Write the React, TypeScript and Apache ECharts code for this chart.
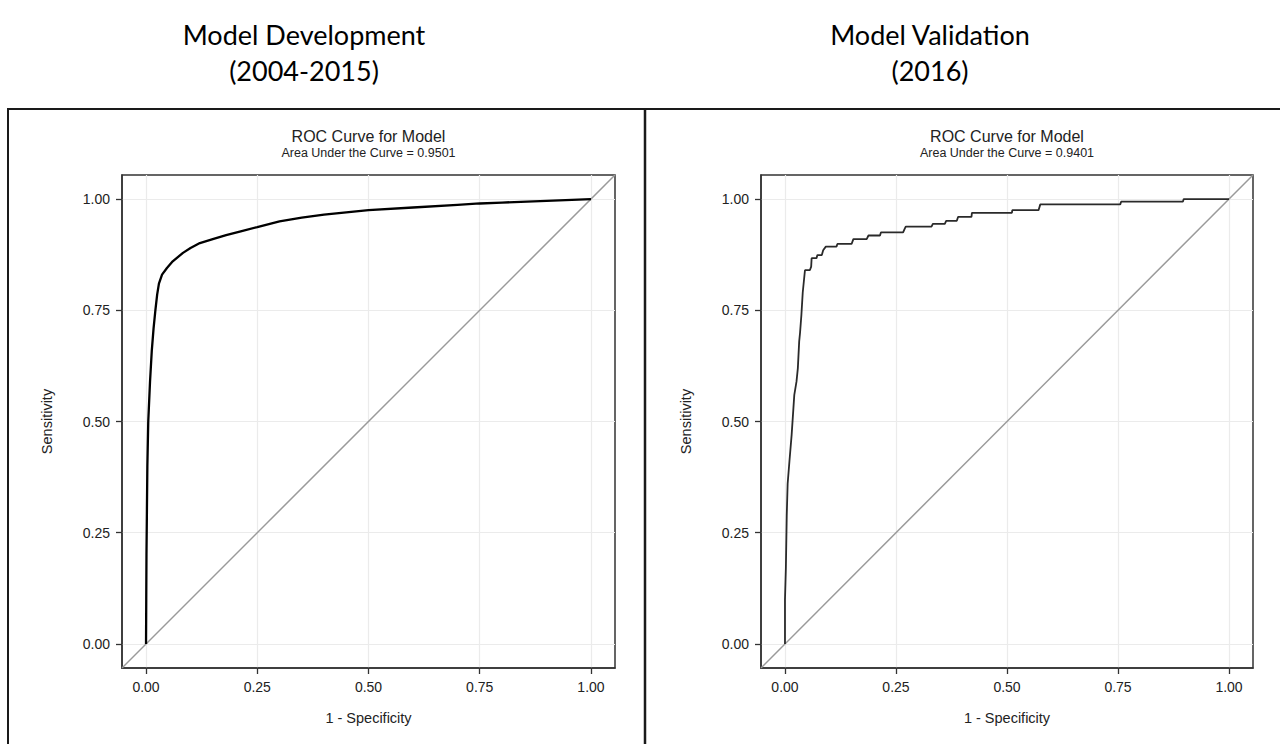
import React, { useEffect, useRef } from "react";
import * as echarts from "echarts";

// ---------- data ----------
const AX_MIN = -0.054;
const AX_MAX = 1.054;
const TICKS = [0, 0.25, 0.5, 0.75, 1];

const PANEL_TITLES = ["Model Development\n(2004-2015)", "Model Validation\n(2016)"];
const CHART_TITLE = "ROC Curve for Model";
const AUC_LABELS = ["Area Under the Curve = 0.9501", "Area Under the Curve = 0.9401"];
const X_NAME = "1 - Specificity";
const Y_NAME = "Sensitivity";

// Development (2004-2015) ROC curve
const DEV_FPR = [0, 0.0005, 0.001, 0.002, 0.003, 0.005, 0.009, 0.013, 0.017, 0.021, 0.025, 0.029, 0.036, 0.047, 0.06, 0.083, 0.1, 0.121, 0.15, 0.18, 0.215, 0.25, 0.3, 0.35, 0.4, 0.45, 0.5, 0.6, 0.7, 0.75, 0.8, 0.9, 1];
const DEV_TPR = [0, 0.1, 0.2, 0.3, 0.4, 0.5, 0.59, 0.66, 0.71, 0.75, 0.785, 0.81, 0.83, 0.845, 0.86, 0.879, 0.89, 0.901, 0.91, 0.919, 0.928, 0.937, 0.95, 0.958, 0.965, 0.97, 0.975, 0.981, 0.987, 0.99, 0.992, 0.996, 1];

// Validation (2016) ROC curve (stepwise)
const VAL_FPR = [0, 0, 0.002, 0.004, 0.006, 0.01, 0.015, 0.019, 0.021, 0.026, 0.029, 0.032, 0.034, 0.037, 0.04, 0.045, 0.056, 0.059, 0.06, 0.071, 0.073, 0.083, 0.086, 0.092, 0.116, 0.118, 0.15, 0.154, 0.184, 0.188, 0.214, 0.216, 0.266, 0.27, 0.272, 0.33, 0.333, 0.36, 0.363, 0.387, 0.39, 0.42, 0.421, 0.511, 0.512, 0.571, 0.575, 0.755, 0.757, 0.896, 0.898, 1];
const VAL_TPR = [0, 0.1, 0.17, 0.29, 0.36, 0.41, 0.47, 0.53, 0.56, 0.59, 0.62, 0.68, 0.7, 0.74, 0.79, 0.84, 0.84, 0.848, 0.867, 0.867, 0.874, 0.874, 0.885, 0.893, 0.893, 0.899, 0.899, 0.91, 0.91, 0.918, 0.918, 0.925, 0.925, 0.934, 0.938, 0.938, 0.944, 0.944, 0.951, 0.951, 0.96, 0.96, 0.969, 0.969, 0.975, 0.975, 0.988, 0.988, 0.994, 0.994, 1, 1];

const CURVES = [
  { fpr: DEV_FPR, tpr: DEV_TPR, color: "#000000", width: 2.3 },
  { fpr: VAL_FPR, tpr: VAL_TPR, color: "#2a2a2a", width: 1.8 },
];

// ---------- layout ----------
const GRIDS = [
  { left: 122, top: 175, width: 493, height: 493 },
  { left: 761, top: 175, width: 492, height: 493 },
];
const TITLE_X = [304, 930];
const FONT = "'Liberation Sans', Arial, sans-serif";

export default function App() {
  const ref = useRef<HTMLDivElement>(null);

  useEffect(() => {
    if (!ref.current) return;
    const chart = echarts.init(ref.current, null, { renderer: "svg" });

    const xAxes: any[] = [];
    const yAxes: any[] = [];
    const series: any[] = [];
    const graphics: any[] = [];

    GRIDS.forEach((g, i) => {
      const common = {
        gridIndex: i,
        type: "value",
        min: AX_MIN,
        max: AX_MAX,
        nameLocation: "middle",
        nameTextStyle: { fontFamily: FONT, fontSize: 14.5, color: "#222" },
        axisLine: { show: true, onZero: false, lineStyle: { color: "#333", width: 1.5 } },
        axisTick: {
          show: true,
          inside: false,
          length: 6,
          customValues: TICKS,
          lineStyle: { color: "#333", width: 1.3 },
        },
        axisLabel: {
          show: true,
          customValues: TICKS,
          formatter: (v: number) => v.toFixed(2),
          fontFamily: FONT,
          fontSize: 14,
          color: "#222",
          margin: 12,
        },
        splitLine: { show: false },
      };
      xAxes.push({ ...common, name: X_NAME, nameGap: 42, position: "bottom" });
      yAxes.push({ ...common, name: Y_NAME, nameGap: 68, position: "left" });

      // diagonal reference line + grid lines
      series.push({
        type: "line",
        xAxisIndex: i,
        yAxisIndex: i,
        data: [[AX_MIN, AX_MIN], [AX_MAX, AX_MAX]],
        symbol: "none",
        silent: true,
        z: 1,
        lineStyle: { color: "#9a9a9a", width: 1.5 },
        markLine: {
          silent: true,
          symbol: ["none", "none"],
          label: { show: false },
          lineStyle: { color: "#ebebeb", width: 1.2, type: "solid" },
          data: [
            ...TICKS.map((v) => ({ xAxis: v })),
            ...TICKS.map((v) => ({ yAxis: v })),
          ],
          z: 0,
        },
      });

      const c = CURVES[i];
      series.push({
        type: "line",
        xAxisIndex: i,
        yAxisIndex: i,
        data: c.fpr.map((x, k) => [x, c.tpr[k]]),
        symbol: "none",
        z: 3,
        lineStyle: { color: c.color, width: c.width },
      });

      const cx = g.left + g.width / 2;
      graphics.push(
        {
          type: "text",
          x: cx,
          y: 136,
          style: {
            text: CHART_TITLE,
            font: `16px ${FONT}`,
            fill: "#222",
            textAlign: "center",
            textVerticalAlign: "middle",
          },
        },
        {
          type: "text",
          x: cx,
          y: 153,
          style: {
            text: AUC_LABELS[i],
            font: `12.5px ${FONT}`,
            fill: "#222",
            textAlign: "center",
            textVerticalAlign: "middle",
          },
        },
        {
          type: "text",
          x: TITLE_X[i],
          y: 52,
          style: {
            text: PANEL_TITLES[i],
            font: `27px Lato, 'Open Sans', sans-serif`,
            lineHeight: 36,
            fill: "#000",
            textAlign: "center",
            textVerticalAlign: "middle",
          },
        }
      );
    });

    // panel borders
    graphics.push(
      { type: "line", shape: { x1: 7, y1: 109, x2: 1280, y2: 109 }, style: { stroke: "#1a1a1a", lineWidth: 2 } },
      { type: "line", shape: { x1: 8, y1: 109, x2: 8, y2: 744 }, style: { stroke: "#1a1a1a", lineWidth: 2 } },
      { type: "line", shape: { x1: 645, y1: 109, x2: 645, y2: 744 }, style: { stroke: "#1a1a1a", lineWidth: 2.5 } }
    );

    chart.setOption({
      animation: false,
      backgroundColor: "#ffffff",
      grid: GRIDS.map((g) => ({
        ...g,
        show: true,
        borderColor: "#333",
        borderWidth: 1.5,
        backgroundColor: "transparent",
        containLabel: false,
      })),
      xAxis: xAxes,
      yAxis: yAxes,
      series,
      graphic: graphics,
    });

    return () => chart.dispose();
  }, []);

  return (
    <div
      ref={ref}
      style={{ position: "fixed", left: 0, top: 0, width: 1280, height: 744, background: "#fff" }}
    />
  );
}
